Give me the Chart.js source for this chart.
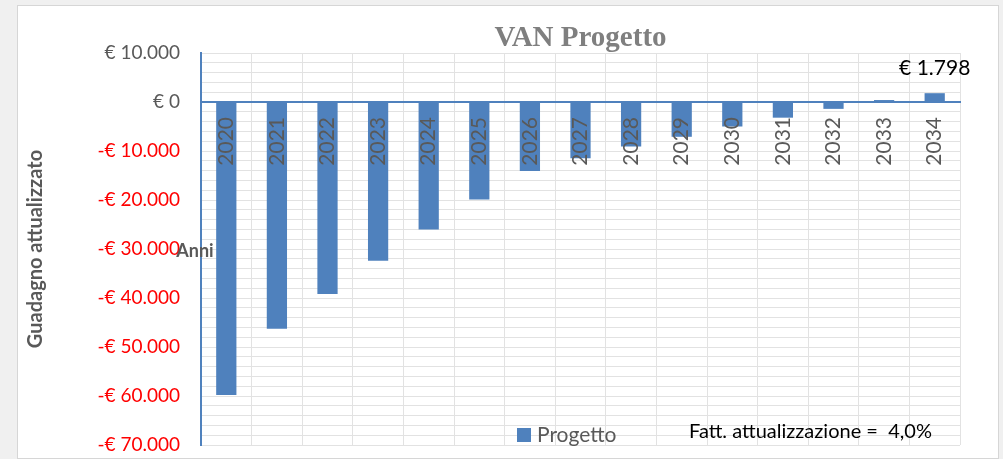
<!DOCTYPE html>
<html>
<head>
<meta charset="utf-8">
<script src="https://cdn.jsdelivr.net/npm/chart.js@4/dist/chart.umd.min.js"></script>
<style>
  html, body { margin: 0; padding: 0; background: #f0f0f0; }
  #box { position: absolute; left: 17px; top: 5px; width: 980px; height: 452px; background: #fff; border: 1px solid #d6d6d6; }
  #wrap { position: absolute; left: 0; top: 0; width: 1003px; height: 459px; }
</style>
</head>
<body>
<div id="box"></div>
<div id="wrap"><canvas id="van" width="1003" height="459"></canvas></div>
<script>
const anni = ['2020', '2021', '2022', '2023', '2024', '2025', '2026', '2027', '2028', '2029', '2030', '2031', '2032', '2033', '2034'];
const progetto = [-59800, -46300, -39200, -32400, -26000, -19900, -14100, -11500, -9100, -7100, -5000, -3200, -1400, 400, 1798];
const yTicks = [10000, 0, -10000, -20000, -30000, -40000, -50000, -60000, -70000];
const tassoAttualizzazione = '4,0%';

function euro(v) {
    const s = String(Math.abs(v)).replace(/\B(?=(\d{3})+(?!\d))/g, '.');
    return (v < 0 ? '-€ ' : '€ ') + s;
}

const extras = {
    id: 'extras',
    afterDraw(chart) {
        const ctx = chart.ctx;
        const ds = chart.data.datasets[0];
        const meta = chart.getDatasetMeta(0);
        ctx.save();

        // etichetta ultimo anno
        const last = meta.data[meta.data.length - 1];
        ctx.fillStyle = '#000';
        ctx.font = '21px Lato';
        ctx.textAlign = 'center';
        ctx.textBaseline = 'middle';
        ctx.fillText(euro(ds.data[ds.data.length - 1]), last.x, last.y - 25);

        // "Anni"
        ctx.fillStyle = '#595959';
        ctx.font = 'bold 18px Lato';
        ctx.fillText('Anni', 195, 251);

        // legenda
        ctx.fillStyle = ds.backgroundColor;
        ctx.fillRect(517, 428, 14, 14);
        ctx.fillStyle = '#595959';
        ctx.font = '21px Lato';
        ctx.textAlign = 'left';
        ctx.fillText(ds.label, 537, 435);

        // fattore
        ctx.fillStyle = '#000';
        ctx.font = '20px Lato';
        ctx.fillText('Fatt. attualizzazione =  ' + tassoAttualizzazione, 689, 432);
        ctx.restore();
    }
};

const ctx = document.getElementById('van').getContext('2d');

new Chart(ctx, {
    type: 'bar',
    data: {
        labels: anni,
        datasets: [{
            label: 'Progetto',
            data: progetto,
            backgroundColor: '#4f81bd',
            categoryPercentage: 1,
            barPercentage: 0.4
        }]
    },
    options: {
        responsive: false,
        animation: false,
        devicePixelRatio: 1,
        layout: { padding: { left: 0, right: 43, top: 0, bottom: 14 } },
        plugins: {
            legend: { display: false },
            tooltip: { enabled: false },
            title: {
                display: true,
                text: 'VAN Progetto',
                fullSize: false,
                color: '#7f7f7f',
                font: { family: 'Liberation Serif', size: 29, weight: 'bold', lineHeight: 1 },
                padding: { top: 24, bottom: 0 }
            }
        },
        scales: {
            x: {
                position: { y: 0 },
                offset: true,
                grid: { color: '#e2e2e2', offset: true, drawTicks: false },
                border: { color: '#4f81bd', width: 2, z: 1 },
                ticks: {
                    z: 1,
                    color: '#595959',
                    font: { family: 'Lato', size: 21 },
                    minRotation: 90,
                    maxRotation: 90,
                    padding: 15
                }
            },
            y: {
                min: yTicks[yTicks.length - 1],
                max: yTicks[0],
                afterFit: s => { s.width = 201; },
                grid: { color: '#e2e2e2', drawTicks: true, tickLength: 21, tickColor: 'rgba(0,0,0,0)' },
                border: { color: '#4f81bd', width: 2 },
                ticks: {
                    stepSize: 2000,
                    autoSkip: false,
                    padding: 0,
                    font: { family: 'Lato', size: 19 },
                    color: c => c.tick.value < 0 ? '#ff0000' : '#595959',
                    callback: v => yTicks.includes(v) ? euro(v) : ''
                },
                title: {
                    display: true,
                    text: 'Guadagno attualizzato',
                    color: '#595959',
                    font: { family: 'Lato', size: 20, weight: 'bold' },
                    padding: { top: 24, bottom: 0 }
                }
            }
        }
    },
    plugins: [extras]
});
</script>
</body>
</html>
